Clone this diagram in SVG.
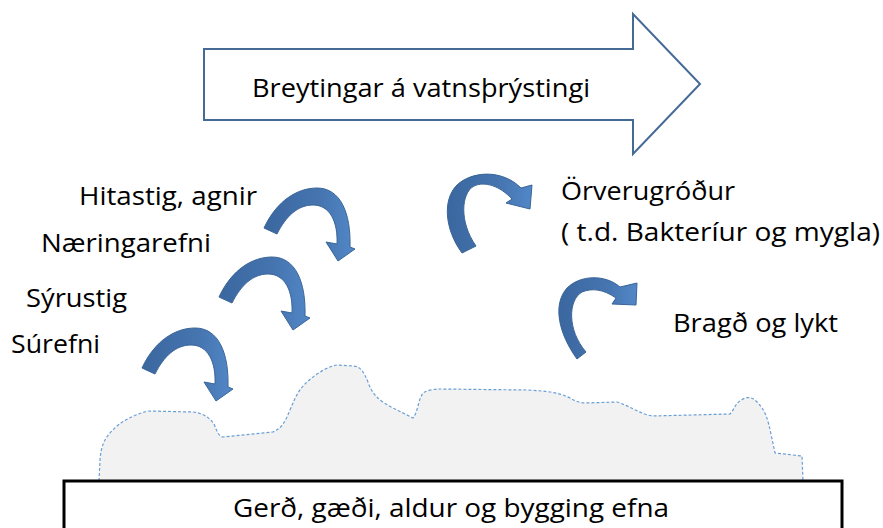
<svg xmlns="http://www.w3.org/2000/svg" xmlns:xlink="http://www.w3.org/1999/xlink" width="883" height="528" viewBox="0 0 883 528">
<defs>
<style>
.t{font-family:"Open Sans","Noto Sans","Liberation Sans",sans-serif;font-size:26px;fill:#000;}
.ca{fill:url(#cg);stroke:#3a6598;stroke-width:1;stroke-linejoin:round;}
</style>
<linearGradient id="cg" x1="0" y1="0" x2="1" y2="0">
<stop offset="0" stop-color="#3b679f"/>
<stop offset="0.6" stop-color="#4574af"/>
<stop offset="1" stop-color="#5287c7"/>
</linearGradient>
<path id="cwArrow" d="M264,228 C277,200 298,188 317,188 C341,188 351,214 350,247 L355,249 L338,261 L326,242 L337,244 C338,222 330,205 313,205 C298,205 286,216 277,234 Z"/>
</defs>
<rect width="883" height="528" fill="#fff"/>

<g id="pressure-arrow">
<path d="M204,49 L633,49 L633,14 L700,84 L633,154 L633,120 L204,120 Z" fill="#fff" stroke="#456a96" stroke-width="2" stroke-linejoin="miter"/>
<text class="t" x="252" y="97" textLength="338" lengthAdjust="spacingAndGlyphs">Breytingar á vatnsþrýstingi</text>
</g>

<g id="material-cloud">
<path d="M99,481 L100,460 C101,447 104,438 113,430 C120,422 133,415 148,411 L193,412 C203,413 210,418 214,424 C217,431 218,436 223,437 L273,432 C282,428 285,422 290,410 C295,398 298,391 305,384 C312,377 325,367 337,365 L353,366 C360,366 364,372 368,382 C372,394 378,400 393,408 L413,418 C418,412 418,400 423,393 C428,390 435,389 440,389 L527,390 C545,391 558,392 570,398 C575,401 580,403 585,403 L617,402 C630,406 640,414 652,416 L730,414 C735,409 735,402 745,398 C752,396 757,401 762,408 C768,416 770,430 775,453 L802,456 L803,481" fill="#f2f2f2" stroke="#6a9fd6" stroke-width="1.2" stroke-dasharray="3,2"/>
</g>

<g id="material-box">
<rect x="64" y="481" width="778" height="60" fill="#fff" stroke="#000" stroke-width="3"/>
<text class="t" x="233" y="517" textLength="436" lengthAdjust="spacingAndGlyphs">Gerð, gæði, aldur og bygging efna</text>
</g>

<g id="label-hitastig"><text class="t" x="79" y="205" textLength="178" lengthAdjust="spacingAndGlyphs">Hitastig, agnir</text></g>
<g id="label-naeringarefni"><text class="t" x="41" y="252" textLength="170" lengthAdjust="spacingAndGlyphs">Næringarefni</text></g>
<g id="label-syrustig"><text class="t" x="26" y="307" textLength="101" lengthAdjust="spacingAndGlyphs">Sýrustig</text></g>
<g id="label-surefni"><text class="t" x="11" y="353" textLength="89" lengthAdjust="spacingAndGlyphs">Súrefni</text></g>
<g id="label-orverugrodur">
<text class="t" x="561" y="200" textLength="174" lengthAdjust="spacingAndGlyphs">Örverugróður</text>
<text class="t" x="561" y="241" textLength="319" lengthAdjust="spacingAndGlyphs">( t.d. Bakteríur og mygla)</text>
</g>
<g id="label-bragd"><text class="t" x="673" y="332" textLength="165" lengthAdjust="spacingAndGlyphs">Bragð og lykt</text></g>

<g id="connectors">
<use xlink:href="#cwArrow" href="#cwArrow" class="ca"/>
<use xlink:href="#cwArrow" href="#cwArrow" class="ca" transform="translate(-45,69)"/>
<use xlink:href="#cwArrow" href="#cwArrow" class="ca" transform="translate(-122,140)"/>
<path class="ca" d="M462,253 C445,230 442,200 457,185 C472,171 502,169 521,188 L532,185 L530,209 L506,203 L512,199 C500,186 485,181 474,186 C461,193 459,222 476,246 Z"/>
<path class="ca" d="M577,359 C559,334 552,305 567,288 C580,275 605,274 620,287 L637,283 L636,305 L612,304 L616,298 C603,289 592,288 582,292 C568,300 567,330 586,352 Z"/>
</g>
</svg>
